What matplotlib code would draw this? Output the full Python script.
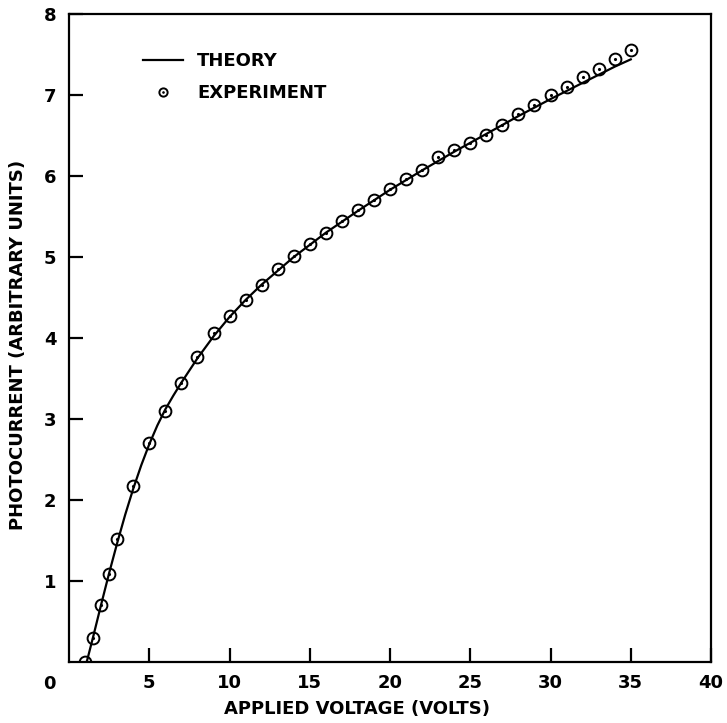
import numpy as np
from matplotlib import pyplot as plt

# experiment points (volts, arbitrary units)
volts_exp = [1, 1.5, 2, 2.5, 3, 4, 5, 6, 7, 8, 9, 10, 11, 12, 13, 14, 15, 16, 17, 18,
             19, 20, 21, 22, 23, 24, 25, 26, 27, 28, 29, 30, 31, 32, 33, 34, 35]
current_exp = [0.0, 0.29, 0.70, 1.09, 1.52, 2.17, 2.70, 3.10, 3.45, 3.77, 4.06, 4.27,
               4.47, 4.66, 4.85, 5.01, 5.16, 5.30, 5.44, 5.58, 5.71, 5.84, 5.96, 6.08,
               6.23, 6.32, 6.41, 6.51, 6.63, 6.77, 6.88, 7.00, 7.10, 7.22, 7.32, 7.44, 7.56]

# theory curve
volts_th = [1.1, 1.5, 2, 2.5, 3, 3.5, 4, 4.5, 5, 5.5, 6, 6.5, 7, 8, 9, 10, 11, 12,
            14, 16, 18, 20, 22, 24, 26, 28, 30, 32, 34, 35]
current_th = [0.0, 0.31, 0.71, 1.10, 1.47, 1.82, 2.14, 2.43, 2.69, 2.92, 3.12, 3.29,
              3.45, 3.75, 4.02, 4.26, 4.47, 4.66, 5.00, 5.30, 5.57, 5.83, 6.07, 6.30,
              6.52, 6.74, 6.95, 7.15, 7.35, 7.44]

x_ticks = [5, 10, 15, 20, 25, 30, 35, 40]
y_ticks = [1, 2, 3, 4, 5, 6, 7, 8]

plt.rcParams['font.family'] = ['DejaVu Sans']
plt.rcParams['font.weight'] = 'bold'

fig = plt.figure(figsize=(7.27, 7.23), dpi=100)
ax = fig.add_axes([0.095, 0.0844, 0.883, 0.8962])

theory, = ax.plot(volts_th, current_th, '-', color='black', lw=1.6)
rings, = ax.plot(volts_exp, current_exp, 'o', ms=8.5, mfc='none', mec='black', mew=1.4)
dots, = ax.plot(volts_exp, current_exp, '.', ms=2.5, color='black')

ax.set_xlim(0, 40)
ax.set_ylim(0, 8)
ax.set_xticks(x_ticks)
ax.set_yticks(y_ticks)

for s in ax.spines.values():
    s.set_linewidth(1.6)

ax.tick_params(direction='in', length=10, width=1.6, labelsize=13)
ax.tick_params(axis='x', pad=9)
ax.tick_params(axis='y', pad=9)

# shared origin label
ax.annotate('0', xy=(0, 0), xytext=(-20, -22), textcoords='offset pixels',
            ha='center', va='center', fontsize=13, fontweight='bold')

ax.set_xlabel('APPLIED VOLTAGE (VOLTS)', fontsize=13, fontweight='bold')
ax.set_ylabel('PHOTOCURRENT (ARBITRARY UNITS)', fontsize=13, fontweight='bold')
ax.xaxis.set_label_coords(0.449, -0.058)
ax.yaxis.set_label_coords(-0.066, 0.49)

ax.legend([theory, (rings, dots)], ['THEORY', 'EXPERIMENT'],
          loc='upper left', bbox_to_anchor=(0.09, 0.966), frameon=False,
          fontsize=13, handlelength=2.2, markerscale=0.7, labelspacing=0.75,
          handletextpad=0.8)

fig.savefig('out.png', dpi=100)
